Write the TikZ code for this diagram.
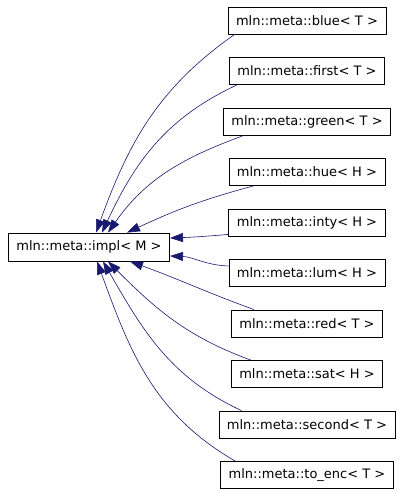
\documentclass[tikz,border=0pt]{standalone}
\usepackage{fontspec}
\newfontfamily\dotfont{DejaVu Sans}
\usetikzlibrary{positioning, arrows.meta}
\definecolor{edgeblue}{HTML}{191970}
\tikzset{
    cls/.style={draw, rectangle, fill=white, line width=0.8pt, inner xsep=8pt, minimum height=27pt, font=\fontsize{13}{15}\dotfont}, % one class box
    inherit/.style={draw=edgeblue, line width=0.6pt, -{Triangle[length=13pt, width=9pt]}, fill=none} % derived -> base
}

\begin{document}
\begin{tikzpicture}[x=1pt, y=1pt]
        \useasboundingbox (0,0) rectangle (403,493);

        \node[cls, minimum height=28pt] (impl) at (89,246) {mln::meta::impl< M >};
        \node[cls] (blue) at (307,472.5) {mln::meta::blue< T >};
        \node[cls, below=22.7pt of blue] (first) {mln::meta::first< T >};
        \node[cls, below=22.7pt of first] (green) {mln::meta::green< T >};
        \node[cls, below=22.7pt of green] (hue) {mln::meta::hue< H >};
        \node[cls, below=22.7pt of hue] (inty) {mln::meta::inty< H >};
        \node[cls, below=22.7pt of inty] (lum) {mln::meta::lum< H >};
        \node[cls, below=22.7pt of lum] (red) {mln::meta::red< T >};
        \node[cls, below=22.7pt of red] (sat) {mln::meta::sat< H >};
        \node[cls, below=22.7pt of sat] (second) {mln::meta::second< T >};
        \node[cls, below=22.7pt of second] (toenc) {mln::meta::to\_enc< T >};

        \draw[inherit] ([xshift=7pt]blue.south west) to[out=215, in=70] ([xshift=7pt]impl.north);
        \draw[inherit] ([xshift=8pt]first.south west) to[out=205, in=65] ([xshift=13pt]impl.north);
        \draw[inherit] ([xshift=21pt]green.south west) to[out=200, in=55] ([xshift=19pt]impl.north);
        \draw[inherit] ([xshift=25pt]hue.south west) to[out=195, in=25] ([xshift=38pt]impl.north);
        \draw[inherit] ([yshift=2pt]inty.south west) to[out=185, in=2] ([yshift=9pt]impl.east);
        \draw[inherit] ([yshift=7pt]lum.west) to[out=178, in=-2] ([yshift=-9pt]impl.east);
        \draw[inherit] ([xshift=23pt]red.north west) to[out=160, in=-20] ([xshift=41pt]impl.south);
        \draw[inherit] ([xshift=20pt]sat.north west) to[out=160, in=-45] ([xshift=19pt]impl.south);
        \draw[inherit] ([xshift=23pt]second.north west) to[out=155, in=-60] ([xshift=14pt]impl.south);
        \draw[inherit] ([xshift=15pt]toenc.north west) to[out=150, in=-70] ([xshift=8pt]impl.south);

    \end{tikzpicture}
\end{document}
